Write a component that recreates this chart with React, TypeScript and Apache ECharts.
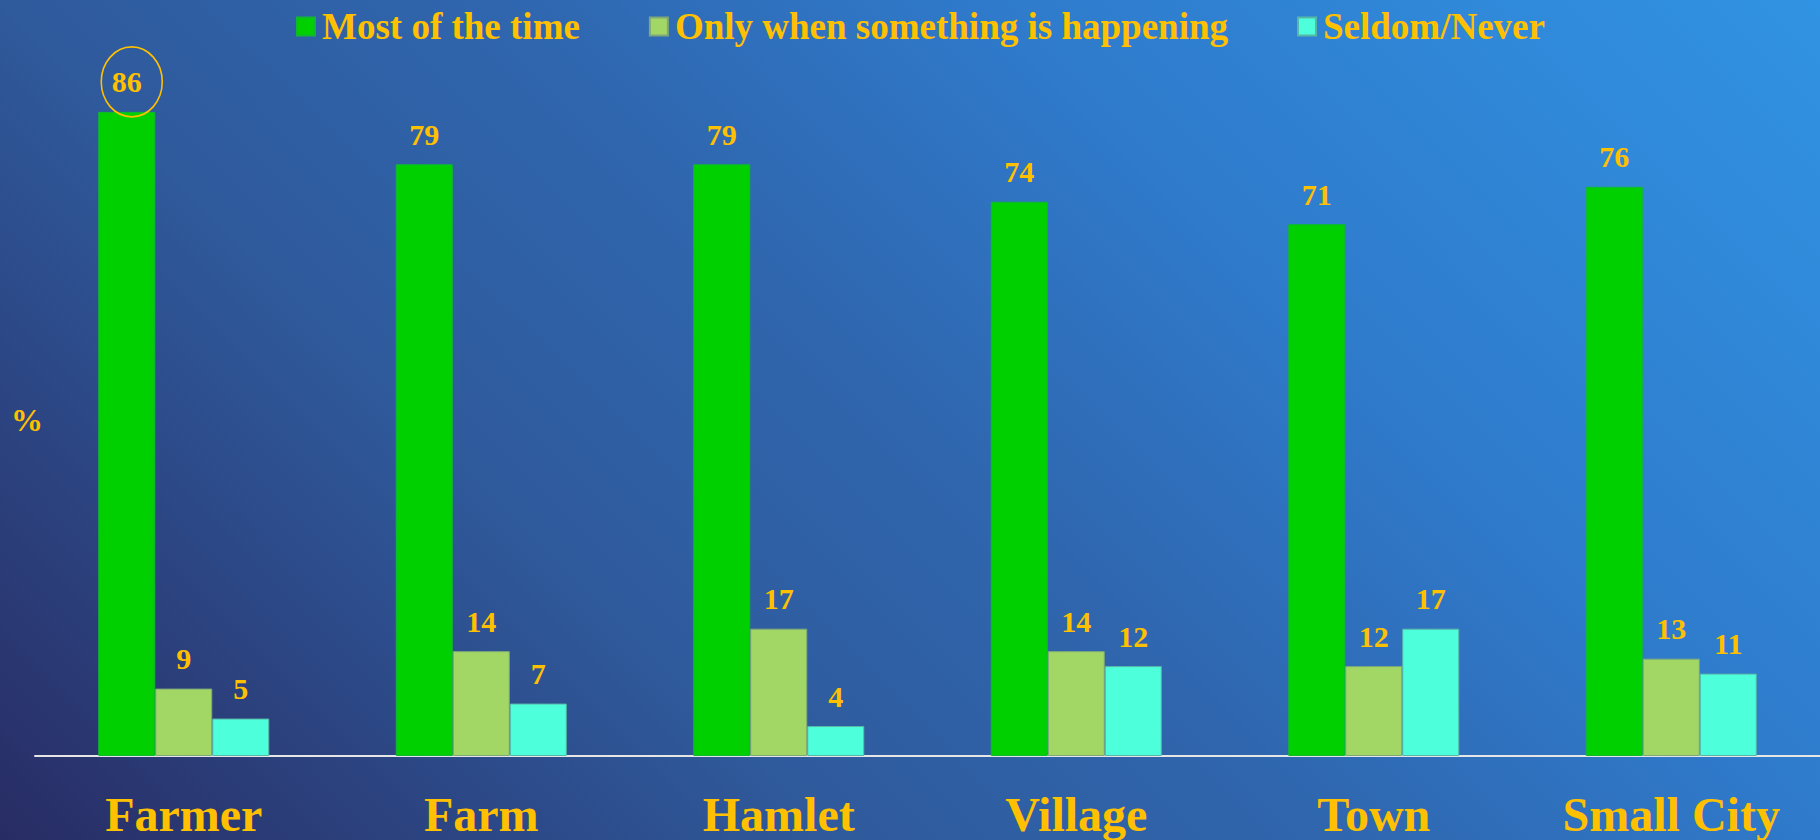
import React, { useEffect, useRef } from "react";
import * as echarts from "echarts";

const categories = ["Farmer", "Farm", "Hamlet", "Village", "Town", "Small City"];
const seriesNames = ["Most of the time", "Only when something is happening", "Seldom/Never"];
const mostOfTheTime = [86, 79, 79, 74, 71, 76];
const onlyWhenHappening = [9, 14, 17, 14, 12, 13];
const seldomNever = [5, 7, 4, 12, 17, 11];
const highlightCategory = "Farmer";
const highlightValue = 86;
const yUnitLabel = "%";

const GOLD = "#FFC000";
const SERIF = "'Liberation Serif', 'Times New Roman', serif";
const BAR_W = 57;

export default function App() {
  const ref = useRef<HTMLDivElement>(null);

  useEffect(() => {
    if (!ref.current) return;
    const chart = echarts.init(ref.current, null, { renderer: "svg" });
    const colors = ["#00D000", "#A2D766", "#4EFFDB"];
    const borders = ["#10b830", "#7fa878", "#58b8a8"];
    const data = [mostOfTheTime, onlyWhenHappening, seldomNever];

    const unitText = {
      type: "text",
      left: 11,
      top: 404,
      style: { text: yUnitLabel, fill: GOLD, font: `bold 32px ${SERIF}` },
    };

    const option: any = {
      animation: false,
      backgroundColor: {
        type: "linear",
        x: 0,
        y: 840,
        x2: 1330,
        y2: -490,
        global: true,
        colorStops: [
          { offset: 0, color: "#282c64" },
          { offset: 0.316, color: "#2f5a9c" },
          { offset: 0.5, color: "#2f66ae" },
          { offset: 0.684, color: "#2f7acb" },
          { offset: 1, color: "#3193e3" },
        ],
      },
      legend: {
        top: 3,
        left: 291,
        itemWidth: 18,
        itemHeight: 18,
        itemGap: 69,
        icon: "rect",
        textStyle: {
          color: GOLD,
          fontFamily: SERIF,
          fontWeight: "bold",
          fontSize: 37,
          padding: [0, 0, 0, 2],
        },
        data: seriesNames,
      },
      grid: { left: 35, right: 0, top: 7, bottom: 84, containLabel: false },
      xAxis: {
        type: "category",
        data: categories,
        axisLine: { show: true, lineStyle: { color: "#e6e6e6", width: 2 } },
        axisTick: { show: false },
        axisLabel: {
          color: GOLD,
          fontFamily: SERIF,
          fontWeight: "bold",
          fontSize: 48,
          margin: 34,
        },
      },
      yAxis: {
        type: "value",
        min: 0,
        max: 100,
        show: false,
        splitLine: { show: false },
      },
      series: seriesNames.map((name, i) => ({
        name,
        type: "bar",
        data: data[i],
        barWidth: BAR_W,
        barGap: "0%",
        itemStyle: { color: colors[i], borderColor: borders[i], borderWidth: 1 },
        label: {
          show: true,
          position: "top",
          distance: 15,
          color: GOLD,
          fontFamily: SERIF,
          fontWeight: "bold",
          fontSize: 30,
        },
      })),
      graphic: [unitText],
    };
    chart.setOption(option);

    const p = chart.convertToPixel({ xAxisIndex: 0, yAxisIndex: 0 }, [
      highlightCategory,
      highlightValue,
    ]) as number[];
    if (p) {
      chart.setOption({
        graphic: [
          unitText,
          {
            type: "ellipse",
            shape: { cx: p[0] - BAR_W + 5, cy: p[1] - 30, rx: 30.5, ry: 35 },
            style: { fill: "none", stroke: GOLD, lineWidth: 1.6 },
            z: 10,
          },
        ],
      });
    }

    return () => chart.dispose();
  }, []);

  return (
    <div
      ref={ref}
      style={{ position: "fixed", left: 0, top: 0, width: 1820, height: 840 }}
    />
  );
}
